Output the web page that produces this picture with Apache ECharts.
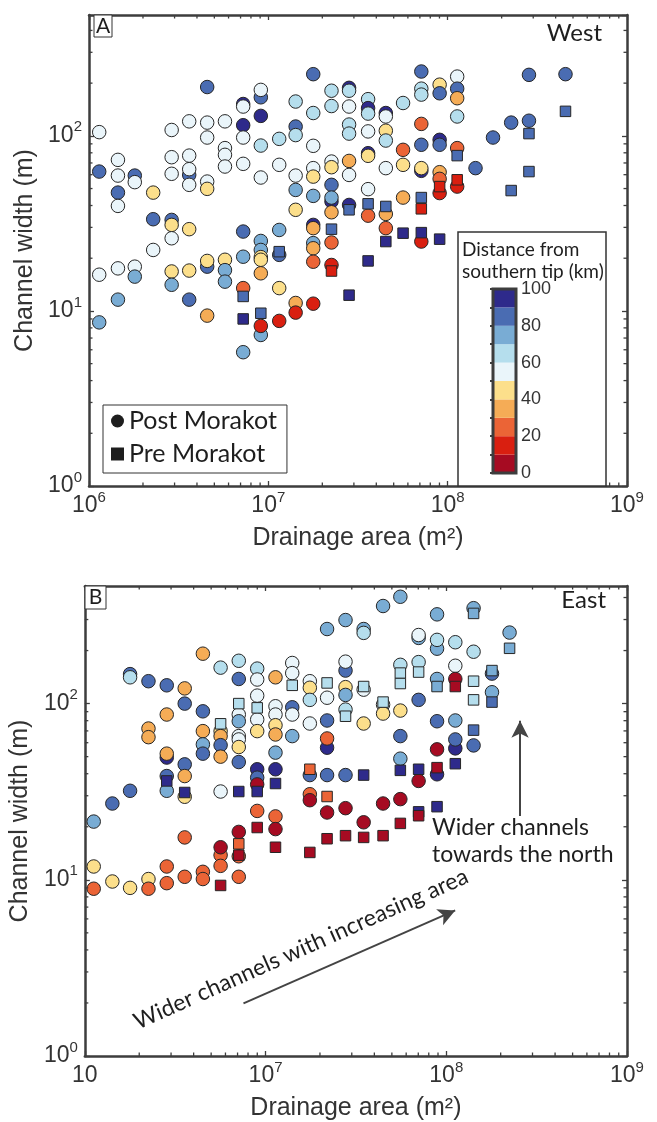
<!DOCTYPE html>
<html>
<head>
<meta charset="utf-8">
<script src="https://cdn.jsdelivr.net/npm/echarts/dist/echarts.min.js"></script>
<style>html,body{margin:0;padding:0;background:#fff;}#chart{width:657px;height:1122px;}</style>
</head>
<body>
<div id="chart"></div>
<script>
// ---------- DATA: [drainage area (m^2), channel width (m), distance from southern tip (km)] ----------
const westPost = [
[1.14e6,105,55],[1.14e6,62.5,85],[1.14e6,16.1,55],[1.14e6,8.6,75],
[1.45e6,72.9,55],[1.45e6,59.3,55],[1.45e6,47.4,85],[1.45e6,39.8,55],[1.45e6,17.5,55],[1.45e6,11.6,75],
[1.80e6,59.3,85],[1.80e6,54.4,55],[1.80e6,17.9,55],[1.80e6,15.7,75],
[2.28e6,47.4,45],[2.28e6,33.4,85],[2.28e6,22.3,55],
[2.89e6,108,55],[2.89e6,75.5,55],[2.89e6,60.7,55],[2.89e6,33.1,85],[2.89e6,31.0,45],[2.89e6,26.0,55],[2.89e6,16.8,45],[2.89e6,14.1,75],
[3.62e6,121,55],[3.62e6,77.1,55],[3.62e6,59.8,85],[3.62e6,64.5,55],[3.62e6,52.5,55],[3.62e6,29.3,45],[3.62e6,17.0,45],[3.62e6,11.6,85],
[4.56e6,190,85],[4.56e6,119,55],[4.56e6,97.8,55],[4.56e6,54.8,55],[4.56e6,49.8,45],[4.56e6,17.9,85],[4.56e6,19.3,45],[4.56e6,9.4,35],
[5.73e6,121,55],[5.73e6,85.1,55],[5.73e6,77.9,55],[5.73e6,66.8,55],[5.73e6,19.6,45],[5.73e6,17.1,75],[5.73e6,14.7,75],
[7.24e6,152,95],[7.24e6,147,55],[7.24e6,115,95],[7.24e6,97.8,55],[7.24e6,69.2,55],[7.24e6,28.4,85],[7.24e6,20.4,75],[7.24e6,13.5,25],[7.24e6,5.81,75],
[9.08e6,166,85],[9.08e6,183,55],[9.08e6,130,95],[9.08e6,88.0,65],[9.08e6,57.8,55],[9.08e6,25.1,75],[9.08e6,22.3,75],[9.08e6,20.3,45],[9.08e6,19.6,45],[9.08e6,16.4,35],[9.08e6,7.29,75],[9.08e6,8.21,15],
[1.15e7,96.1,65],[1.15e7,68.3,55],[1.15e7,29.0,75],[1.15e7,20.9,85],[1.15e7,13.5,45],[1.15e7,8.77,15],
[1.42e7,157,65],[1.42e7,113,85],[1.42e7,101,65],[1.42e7,59.3,55],[1.42e7,49.1,75],[1.42e7,37.8,45],[1.42e7,11.1,35],[1.42e7,9.78,15],
[1.78e7,225,85],[1.78e7,135,65],[1.78e7,87.7,55],[1.78e7,65.4,55],[1.78e7,58.5,45],[1.78e7,45.4,75],[1.78e7,31.0,95],[1.78e7,29.7,35],[1.78e7,24.4,75],[1.78e7,22.8,35],[1.78e7,19.1,25],[1.78e7,11.0,15],
[2.25e7,181,65],[2.25e7,148,65],[2.25e7,71.3,55],[2.25e7,66.2,45],[2.25e7,52.5,85],[2.25e7,42.2,95],[2.25e7,44.4,75],[2.25e7,36.6,35],[2.25e7,24.6,25],[2.25e7,18.3,15],
[2.82e7,188,95],[2.82e7,181,65],[2.82e7,147,55],[2.82e7,116,65],[2.82e7,103,65],[2.82e7,71.9,35],[2.82e7,59.8,55],[2.82e7,40.3,95],
[3.60e7,162,65],[3.60e7,144,95],[3.60e7,134,65],[3.60e7,106,55],[3.60e7,79.6,95],[3.60e7,76.9,45],[3.60e7,49.6,55],[3.60e7,35.0,25],
[4.52e7,135,95],[4.52e7,129,55],[4.52e7,107,45],[4.52e7,94.0,65],[4.52e7,65.4,55],[4.52e7,35.8,35],[4.52e7,29.7,25],
[5.64e7,154,65],[5.64e7,83.2,25],[5.64e7,68.3,45],[5.64e7,44.4,35],
[7.13e7,233,85],[7.13e7,186,65],[7.13e7,172,65],[7.13e7,117,25],[7.13e7,88.9,85],[7.13e7,63.1,95],[7.13e7,65.4,45],[7.13e7,24.9,15],
[9.02e7,196,45],[9.02e7,175,85],[9.02e7,94.9,95],[9.02e7,88.9,85],[9.02e7,62.0,35],[9.02e7,56.8,25],[9.02e7,47.1,15],
[1.13e8,218,55],[1.13e8,186,85],[1.13e8,164,35],[1.13e8,129,65],[1.13e8,85.1,25],[1.13e8,51.3,15],
[1.43e8,65.4,85],[1.79e8,97.8,85],[2.26e8,119,85],[2.84e8,223,85],[2.84e8,122,85],[4.54e8,225,85]
];
const westPre = [
[7.24e6,12.1,85],[7.24e6,9.0,95],[9.08e6,9.70,85],[1.15e7,21.8,85],[2.25e7,29.3,85],[2.25e7,16.9,15],
[2.82e7,37.8,85],[2.82e7,12.3,95],[3.60e7,40.9,85],[3.60e7,19.3,95],[4.52e7,39.5,85],[4.52e7,24.9,95],
[5.64e7,27.8,95],[7.13e7,44.4,85],[7.13e7,38.3,15],[7.13e7,28.0,95],[9.02e7,51.3,15],[9.02e7,25.7,95],
[1.13e8,77.1,85],[1.13e8,56.1,15],[2.26e8,48.7,85],[2.84e8,103,85],[2.84e8,62.5,85],[4.54e8,138,85]
];
const eastPost = [
[1.12e6,21.4,75],[1.12e6,11.9,45],[1.12e6,8.9,25],
[1.42e6,27.1,85],[1.42e6,9.78,45],
[1.78e6,147,85],[1.78e6,141,65],[1.78e6,32.0,85],[1.78e6,9.0,45],
[2.25e6,134,85],[2.25e6,72.2,35],[2.25e6,64.5,35],[2.25e6,10.1,45],[2.25e6,8.9,25],
[2.84e6,127,85],[2.84e6,86.7,35],[2.84e6,49.4,95],[2.84e6,52.0,35],[2.84e6,38.8,85],[2.84e6,32.0,75],[2.84e6,11.9,25],[2.84e6,9.57,25],
[3.57e6,122,35],[3.57e6,100,85],[3.57e6,45.2,85],[3.57e6,38.8,35],[3.57e6,29.6,45],[3.57e6,17.4,25],[3.57e6,10.4,25],
[4.50e6,192,35],[4.50e6,90.4,85],[4.50e6,69.8,35],[4.50e6,58.7,75],[4.50e6,52.0,85],[4.50e6,11.1,25],[4.50e6,10.1,25],
[5.64e6,160,65],[5.64e6,69.8,45],[5.64e6,65.4,35],[5.64e6,58.1,85],[5.64e6,50.0,35],[5.64e6,31.7,55],[5.64e6,13.8,25],[5.64e6,12.0,25],[5.64e6,15.3,5],
[7.11e6,175,65],[7.11e6,138,85],[7.11e6,86.7,55],[7.11e6,79.4,75],[7.11e6,65.4,55],[7.11e6,62.6,55],[7.11e6,56.7,45],[7.11e6,46.6,85],[7.11e6,18.7,5],[7.11e6,13.6,25],[7.11e6,10.4,25],
[8.99e6,158,65],[8.99e6,137,55],[8.99e6,111,55],[8.99e6,81.2,55],[8.99e6,69.8,45],[8.99e6,42.4,95],[8.99e6,38.0,85],[8.99e6,34.8,5],[8.99e6,24.6,25],
[1.135e7,141,35],[1.135e7,96.6,55],[1.135e7,86.7,55],[1.135e7,75.4,45],[1.135e7,66.8,35],[1.135e7,52.7,75],[1.135e7,42.4,95],[1.135e7,22.9,25],[1.135e7,19.4,5],
[1.405e7,170,55],[1.405e7,149,55],[1.405e7,95.3,85],[1.405e7,86.7,55],[1.405e7,65.4,75],
[1.758e7,134,55],[1.758e7,123,45],[1.758e7,105,65],[1.758e7,77.1,55],[1.758e7,39.3,85],[1.758e7,30.6,25],[1.758e7,28.3,5],
[2.19e7,265,75],[2.19e7,108,55],[2.19e7,80.2,85],[2.19e7,56.2,95],[2.19e7,63.4,25],[2.19e7,39.3,85],[2.19e7,24.1,5],
[2.77e7,298,75],[2.77e7,154,85],[2.77e7,173,55],[2.77e7,124,45],[2.77e7,112,75],[2.77e7,92.5,65],[2.77e7,39.3,85],[2.77e7,25.5,5],
[3.49e7,265,75],[3.49e7,252,65],[3.49e7,120,55],[3.49e7,77.1,45],[3.49e7,21.2,5],
[4.47e7,358,75],[4.47e7,98.7,55],[4.47e7,87.8,45],[4.47e7,27.1,5],
[5.57e7,404,75],[5.57e7,166,65],[5.57e7,91.3,45],[5.57e7,65.4,85],[5.57e7,48.7,75],[5.57e7,28.7,5],
[7.03e7,236,75],[7.03e7,245,55],[7.03e7,172,65],[7.03e7,105,85],[7.03e7,36.4,5],
[8.89e7,321,75],[8.89e7,205,75],[8.89e7,230,65],[8.89e7,138,75],[8.89e7,79.4,85],[8.89e7,55.0,5],[8.89e7,39.7,95],
[1.122e8,223,65],[1.122e8,164,55],[1.122e8,138,5],[1.122e8,80.2,75],[1.122e8,55.7,95],[1.122e8,62.6,85],
[1.416e8,348,75],[1.416e8,197,65],[1.416e8,57.9,85],
[1.79e8,148,85],[1.79e8,116,75],
[2.24e8,253,75]
];
const eastPre = [
[2.84e6,36.4,95],[3.57e6,31.3,95],[5.64e6,76.8,65],[5.64e6,9.29,5],[7.11e6,100,65],[7.11e6,31.7,95],[7.11e6,16.0,25],[7.11e6,13.8,5],
[8.99e6,94.6,65],[8.99e6,31.7,95],[8.99e6,19.8,5],[1.135e7,35.2,95],[1.135e7,15.3,5],[1.405e7,127,65],[1.758e7,42.4,25],[1.758e7,14.3,5],
[2.19e7,131,65],[2.19e7,29.7,25],[2.19e7,17.1,5],[2.77e7,84.8,65],[2.77e7,17.8,5],[3.49e7,125,65],[3.49e7,39.3,95],[3.49e7,17.4,5],
[4.47e7,102,65],[4.47e7,17.8,5],[5.57e7,149,65],[5.57e7,130,65],[5.57e7,41.8,95],[5.57e7,20.9,5],[7.03e7,151,65],[7.03e7,42.4,95],
[7.03e7,24.3,95],[7.03e7,23.1,5],[8.89e7,125,75],[8.89e7,43.3,5],[8.89e7,26.0,95],[1.122e8,125,5],[1.122e8,45.6,95],
[1.416e8,325,75],[1.416e8,134,65],[1.416e8,105,65],[1.416e8,70.7,85],[1.79e8,154,75],[1.79e8,102,85],[2.24e8,206,75]
];
// colour classes (distance from southern tip, km)
const classBounds = [0,10,20,30,40,50,60,70,80,90,100];
const classColors = ['#A60B22','#D91F10','#EB6436','#F5AC56','#FCDF8B','#EAF5FA','#B5DEED','#79ACD4','#4A6CB2','#2E2A8B'];
const colorbarTicks = [0,20,40,60,80,100];
// axis ranges and minor tick positions
const X_RANGE = [1e6, 1e9];
const Y_RANGE_A = [1, 490];
const Y_RANGE_B = [1, 465];
const xMinor = [2e6,3e6,4e6,5e6,6e6,7e6,8e6,9e6,2e7,3e7,4e7,5e7,6e7,7e7,8e7,9e7,2e8,3e8,4e8,5e8,6e8,7e8,8e8,9e8];
const yMinor = [2,3,4,5,6,7,8,9,20,30,40,50,60,70,80,90,200,300,400];
// annotation arrows (data coordinates in panel B)
const arrowNorth = [[2.56e8, 23], [2.56e8, 80]];
const arrowArea = [[7.55e6, 1.99], [1.12e8, 6.7]];

// ---------- STYLE ----------
const AX = '#3d3d3d';
const TXT = '#333333';
const FONT = '"Liberation Sans", Arial, Helvetica, sans-serif';
const ANNO = 'Lato, "Open Sans", sans-serif';

function logFormatter(dropFirstExp) {
  return function (v) {
    const l = Math.log10(v), e = Math.round(l);
    if (Math.abs(l - e) > 1e-6) return '';
    if (dropFirstExp && e === 6) return '{b|10}';
    return '{b|10}{s|' + e + '}';
  };
}
const richLab = {
  b: {fontSize: 23, fontFamily: FONT, color: TXT, lineHeight: 32},
  s: {fontSize: 15, fontFamily: FONT, color: TXT, lineHeight: 15, verticalAlign: 'top'}
};
function xAxisMain(grid, dropFirst) {
  return {
    gridIndex: grid, type: 'log', logBase: 10, min: X_RANGE[0], max: X_RANGE[1], position: 'bottom',
    axisLine: {show: true, onZero: false, lineStyle: {color: AX, width: 2.5}},
    axisTick: {show: true, inside: true, length: 5, lineStyle: {color: AX, width: 1.3}},
    axisLabel: {formatter: logFormatter(dropFirst), rich: richLab, margin: 4, fontSize: 23, fontFamily: FONT, color: TXT},
    splitLine: {show: false},
    name: 'Drainage area (m²)', nameLocation: 'middle', nameGap: 40,
    nameTextStyle: {fontFamily: FONT, fontSize: 25, color: TXT}
  };
}
function xAxisTop(grid) {
  return {
    gridIndex: grid, type: 'log', logBase: 10, min: X_RANGE[0], max: X_RANGE[1], position: 'top',
    axisLine: {show: true, onZero: false, lineStyle: {color: AX, width: 2.5}},
    axisTick: {show: true, inside: true, length: 5, lineStyle: {color: AX, width: 1.3}},
    axisLabel: {show: false}, splitLine: {show: false}
  };
}
function yAxisMain(grid, range) {
  return {
    gridIndex: grid, type: 'log', logBase: 10, min: range[0], max: range[1], position: 'left',
    axisLine: {show: true, onZero: false, lineStyle: {color: AX, width: 2.5}},
    axisTick: {show: true, inside: true, length: 5, lineStyle: {color: AX, width: 1.3}},
    axisLabel: {formatter: logFormatter(false), rich: richLab, margin: 7, fontSize: 23, fontFamily: FONT, color: TXT},
    splitLine: {show: false},
    name: 'Channel width (m)', nameLocation: 'middle', nameGap: 42, nameRotate: 90,
    nameTextStyle: {fontFamily: FONT, fontSize: 25, color: TXT}
  };
}
function yAxisRight(grid, range) {
  return {
    gridIndex: grid, type: 'log', logBase: 10, min: range[0], max: range[1], position: 'right',
    axisLine: {show: true, onZero: false, lineStyle: {color: AX, width: 2.5}},
    axisTick: {show: true, inside: true, length: 5, lineStyle: {color: AX, width: 1.3}},
    axisLabel: {show: false}, splitLine: {show: false}
  };
}
function minorTickSeries(xi, yi, yRange) {
  const data = xMinor.map(v => [v, yRange[0], 0])
    .concat(yMinor.filter(v => v < yRange[1]).map(v => [X_RANGE[0], v, 1]));
  return {
    type: 'custom', xAxisIndex: xi, yAxisIndex: yi, z: 6, silent: true, clip: false,
    data: data,
    renderItem: function (params, api) {
      const kind = api.value(2), L = 3.5, st = {stroke: AX, lineWidth: 1.3};
      if (kind === 0) {
        const v = api.value(0);
        const b = api.coord([v, yRange[0]]), t = api.coord([v, yRange[1]]);
        return {type: 'group', children: [
          {type: 'line', shape: {x1: b[0], y1: b[1], x2: b[0], y2: b[1] - L}, style: st},
          {type: 'line', shape: {x1: t[0], y1: t[1], x2: t[0], y2: t[1] + L}, style: st}]};
      } else {
        const v = api.value(1);
        const l = api.coord([X_RANGE[0], v]), r = api.coord([X_RANGE[1], v]);
        return {type: 'group', children: [
          {type: 'line', shape: {x1: l[0], y1: l[1], x2: l[0] + L, y2: l[1]}, style: st},
          {type: 'line', shape: {x1: r[0], y1: r[1], x2: r[0] - L, y2: r[1]}, style: st}]};
      }
    }
  };
}
function scatter(name, data, xi, yi, isPost) {
  return {
    name: name, type: 'scatter', xAxisIndex: xi, yAxisIndex: yi, data: data,
    symbol: isPost ? 'circle' : 'rect', symbolSize: isPost ? 13.5 : 10.5,
    itemStyle: {borderColor: '#262626', borderWidth: 1, opacity: 1},
    z: isPost ? 2 : 3, silent: true
  };
}
const pieces = classColors.map((c, i) => ({min: classBounds[i], max: classBounds[i + 1], color: c}));
const cbData = classColors.map((c, i) => [classBounds[i], classBounds[i + 1]]);

const option = {
  animation: false,
  backgroundColor: '#ffffff',
  grid: [
    {left: 89, top: 15, width: 538, height: 471},
    {left: 84, top: 586, width: 543, height: 471},
    {left: 493, top: 289, width: 23, height: 184, show: true, borderColor: AX, borderWidth: 3, backgroundColor: 'transparent', z: 21}
  ],
  xAxis: [
    xAxisMain(0, false), xAxisTop(0), xAxisMain(1, true), xAxisTop(1),
    {gridIndex: 2, type: 'value', min: 0, max: 1, show: false}
  ],
  yAxis: [
    yAxisMain(0, Y_RANGE_A), yAxisRight(0, Y_RANGE_A), yAxisMain(1, Y_RANGE_B), yAxisRight(1, Y_RANGE_B),
    {gridIndex: 2, type: 'value', min: 0, max: 100, interval: 10, position: 'right', z: 22,
     axisLine: {show: false},
     axisTick: {show: true, inside: true, length: 3, lineStyle: {color: AX, width: 2}},
     axisLabel: {formatter: v => (colorbarTicks.indexOf(v) >= 0 ? String(v) : ''), margin: 5, fontFamily: FONT, fontSize: 18, color: TXT},
     splitLine: {show: false}}
  ],
  visualMap: {type: 'piecewise', show: false, dimension: 2, seriesIndex: [0, 1, 2, 3], pieces: pieces},
  legend: {
    left: 103, top: 405, orient: 'vertical', padding: [1, 10, 4, 8], itemGap: 3,
    itemWidth: 13, itemHeight: 13, selectedMode: false, z: 30,
    backgroundColor: '#ffffff', borderColor: '#333333', borderWidth: 1,
    itemStyle: {color: '#1e1e1e', borderWidth: 0},
    textStyle: {fontFamily: ANNO, fontSize: 25, color: '#1e1e1e', lineHeight: 30},
    data: [
      {name: 'Post Morakot', icon: 'circle', itemStyle: {color: '#1e1e1e', borderWidth: 0}},
      {name: 'Pre Morakot', icon: 'rect', itemStyle: {color: '#1e1e1e', borderWidth: 0}}
    ]
  },
  series: [
    scatter('Post Morakot', westPost, 0, 0, true),
    scatter('Pre Morakot', westPre, 0, 0, false),
    scatter('Post Morakot', eastPost, 2, 2, true),
    scatter('Pre Morakot', eastPre, 2, 2, false),
    minorTickSeries(0, 0, Y_RANGE_A),
    minorTickSeries(2, 2, Y_RANGE_B),
    {
      type: 'custom', xAxisIndex: 4, yAxisIndex: 4, z: 20, silent: true, clip: false,
      data: cbData,
      renderItem: function (params, api) {
        const lo = api.value(0), hi = api.value(1);
        const p1 = api.coord([0, lo]), p2 = api.coord([1, hi]);
        return {type: 'rect', shape: {x: p1[0], y: p2[1], width: p2[0] - p1[0], height: p1[1] - p2[1]},
                style: {fill: classColors[params.dataIndex]}};
      }
    },
    {
      type: 'line', xAxisIndex: 2, yAxisIndex: 2, data: [], silent: true, z: 8,
      markLine: {
        silent: true, symbol: ['none', 'arrow'], symbolSize: [13, 17],
        label: {show: false},
        lineStyle: {color: '#444444', width: 2, type: 'solid'},
        data: [
          [{coord: arrowNorth[0]}, {coord: arrowNorth[1]}],
          [{coord: arrowArea[0]}, {coord: arrowArea[1]}]
        ]
      }
    }
  ],
  graphic: [
    {type: 'rect', z: 10, shape: {x: 458, y: 232, width: 148, height: 254}, style: {fill: '#ffffff', stroke: '#333333', lineWidth: 1.5}},
    {type: 'text', z: 11, x: 462, y: 250, style: {text: 'Distance from', font: '19px ' + ANNO, fill: '#1e1e1e', textAlign: 'left', textVerticalAlign: 'middle'}},
    {type: 'text', z: 11, x: 462, y: 272, style: {text: 'southern tip (km)', font: '19px ' + ANNO, fill: '#1e1e1e', textAlign: 'left', textVerticalAlign: 'middle'}},
    {type: 'rect', z: 40, shape: {x: 94, y: 15, width: 18, height: 22}, style: {fill: '#ffffff', stroke: '#333333', lineWidth: 1}},
    {type: 'text', z: 41, x: 103, y: 26.5, style: {text: 'A', font: '21px ' + ANNO, fill: '#1e1e1e', textAlign: 'center', textVerticalAlign: 'middle'}},
    {type: 'rect', z: 40, shape: {x: 85, y: 586, width: 21, height: 23}, style: {fill: '#ffffff', stroke: '#333333', lineWidth: 1}},
    {type: 'text', z: 41, x: 95.5, y: 597.5, style: {text: 'B', font: '21px ' + ANNO, fill: '#1e1e1e', textAlign: 'center', textVerticalAlign: 'middle'}},
    {type: 'text', z: 41, x: 602, y: 33, style: {text: 'West', font: '24px ' + ANNO, fill: '#1e1e1e', textAlign: 'right', textVerticalAlign: 'middle'}},
    {type: 'text', z: 41, x: 606, y: 600, style: {text: 'East', font: '24px ' + ANNO, fill: '#1e1e1e', textAlign: 'right', textVerticalAlign: 'middle'}},
    {type: 'text', z: 41, x: 432, y: 828, style: {text: 'Wider channels', font: '23px ' + ANNO, fill: '#1e1e1e', textAlign: 'left', textVerticalAlign: 'middle'}},
    {type: 'text', z: 41, x: 432, y: 855, style: {text: 'towards the north', font: '23px ' + ANNO, fill: '#1e1e1e', textAlign: 'left', textVerticalAlign: 'middle'}},
    {type: 'text', z: 41, x: 301, y: 949, rotation: 24 * Math.PI / 180, style: {text: 'Wider channels with increasing area', font: '23px ' + ANNO, fill: '#1e1e1e', textAlign: 'center', textVerticalAlign: 'middle'}}
  ]
};
const chart = echarts.init(document.getElementById('chart'), null, {renderer: 'canvas'});
chart.setOption(option);
</script>
</body>
</html>
